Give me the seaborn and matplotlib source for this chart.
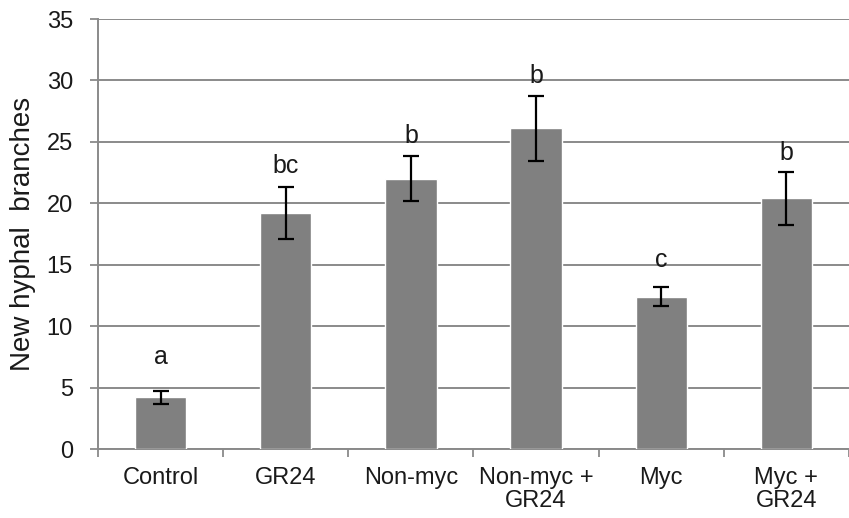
import matplotlib
matplotlib.use("Agg")
import matplotlib.pyplot as plt
import seaborn as sns
import pandas as pd
import numpy as np

categories = ["Control", "GR24", "Non-myc", "Non-myc +\nGR24", "Myc", "Myc +\nGR24"]
means = [4.2, 19.2, 22.0, 26.1, 12.4, 20.4]
errors = [0.55, 2.1, 1.85, 2.65, 0.75, 2.15]
letters = ["a", "bc", "b", "b", "c", "b"]
letter_y = [6.9, 22.5, 24.9, 29.8, 14.8, 23.5]
yticks = [0, 5, 10, 15, 20, 25, 30, 35]

sns.set_theme(style="white")
plt.rcParams['font.family'] = ['Liberation Sans', 'DejaVu Sans']

df = pd.DataFrame({"cat": categories, "val": means})

fig = plt.figure(figsize=(8.49, 5.18), dpi=100)
ax = fig.add_axes([0.1154, 0.1332, 0.8846, 0.830])

sns.barplot(data=df, x="cat", y="val", color="#808080", saturation=1,
            width=0.41, ax=ax, errorbar=None, zorder=3)
ax.errorbar(np.arange(len(categories)), means, yerr=errors, fmt="none",
            ecolor="black", elinewidth=1.6, capsize=5.5, capthick=1.6, zorder=4)

for i, (l, y) in enumerate(zip(letters, letter_y)):
    ax.text(i, y, l, ha="center", va="baseline", fontsize=18, color="#1a1a1a")

ax.set_ylim(0, 35)
ax.set_xlim(-0.5, 5.49)
ax.set_yticks(yticks)
ax.set_yticklabels([str(t) for t in yticks], fontsize=17, color="#1a1a1a")
ax.set_xticks(range(len(categories)))
ax.set_xticklabels(categories, fontsize=17, color="#1a1a1a", linespacing=1.05)
ax.set_xticks(np.arange(-0.5, 6, 1), minor=True)
ax.tick_params(axis="x", which="major", length=0, pad=13)
ax.tick_params(axis="x", which="minor", length=6, width=1.3, color="#8a8a8a", direction="out", bottom=True)
ax.tick_params(axis="y", which="major", length=6, width=1.3, color="#8a8a8a", direction="out", left=True, pad=12)

ax.grid(axis="y", color="#8a8a8a", linewidth=1.4, zorder=0)
ax.set_axisbelow(True)
for s in ["top", "right"]:
    ax.spines[s].set_visible(False)
for s in ["left", "bottom"]:
    ax.spines[s].set_color("#8a8a8a")
    ax.spines[s].set_linewidth(1.4)

ax.set_xlabel("")
ax.set_ylabel("New hyphal  branches", fontsize=20, color="#1a1a1a", labelpad=8)

fig.savefig("out.png", dpi=100)
